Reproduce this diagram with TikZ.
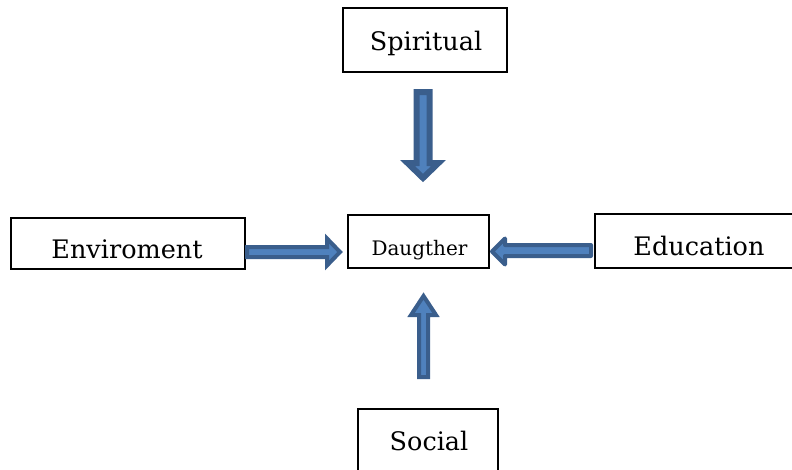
\documentclass[tikz,border=0pt]{standalone}
\usepackage{fontspec}
\setmainfont{DejaVu Serif}
\definecolor{arrdark}{RGB}{58,94,140}
\definecolor{arrlight}{RGB}{79,129,189}
\tikzset{
  boxstyle/.style={draw=black, line width=1.1pt, fill=white, inner sep=0pt},
  lbl/.style={anchor=base, inner sep=0pt, font=\fontsize{25.5}{28}\selectfont},
  smalllbl/.style={anchor=base, inner sep=0pt, font=\fontsize{20}{22}\selectfont},
  blockarrow/.style={draw=arrdark, fill=arrlight, line join=miter},
}
\begin{document}
\begin{tikzpicture}[x=1pt,y=-1pt]
\useasboundingbox (0,0) rectangle (792,469);
% boxes
\node[boxstyle, minimum width=164pt, minimum height=64pt] (spiritual) at (425,40) {};
\node[lbl] (spiritualtxt) at (426,50) {Spiritual};
\node[boxstyle, minimum width=234pt, minimum height=51pt] (environment) at (128,243.5) {};
\node[lbl] (environmenttxt) at (127,258) {Enviroment};
\node[boxstyle, minimum width=141pt, minimum height=53pt] (daughter) at (418.5,241.5) {};
\node[smalllbl] (daughtertxt) at (419.5,255) {Daugther};
\node[boxstyle, minimum width=240pt, minimum height=54pt] (education) at (715,241) {};
\node[lbl] (educationtxt) at (699,255) {Education};
\node[boxstyle, minimum width=140pt, minimum height=90pt] (social) at (428,454) {};
\node[lbl] (socialtxt) at (429,450) {Social};
% block arrows
% Spiritual -> Daughter (down)
\draw[blockarrow, line width=6pt] (416.5,92) -- (429.5,92) -- (429.5,163) -- (438.5,163) -- (423,178) -- (407.5,163) -- (416.5,163) -- cycle;
% Social -> Daughter (up)
\draw[blockarrow, line width=4pt] (419,377) -- (428,377) -- (428,315) -- (436,315) -- (423.5,296) -- (411,315) -- (419,315) -- cycle;
% Environment -> Daughter (right)
\draw[blockarrow, line width=4pt] (247,247) -- (327,247) -- (327,238.5) -- (340,252) -- (327,265.5) -- (327,257) -- (247,257) -- cycle;
% Education -> Daughter (left)
\draw[blockarrow, line width=4pt, line join=round] (591,245) -- (505,245) -- (505,238.5) -- (492,251.5) -- (505,264.5) -- (505,256) -- (591,256) -- cycle;
\end{tikzpicture}
\end{document}
